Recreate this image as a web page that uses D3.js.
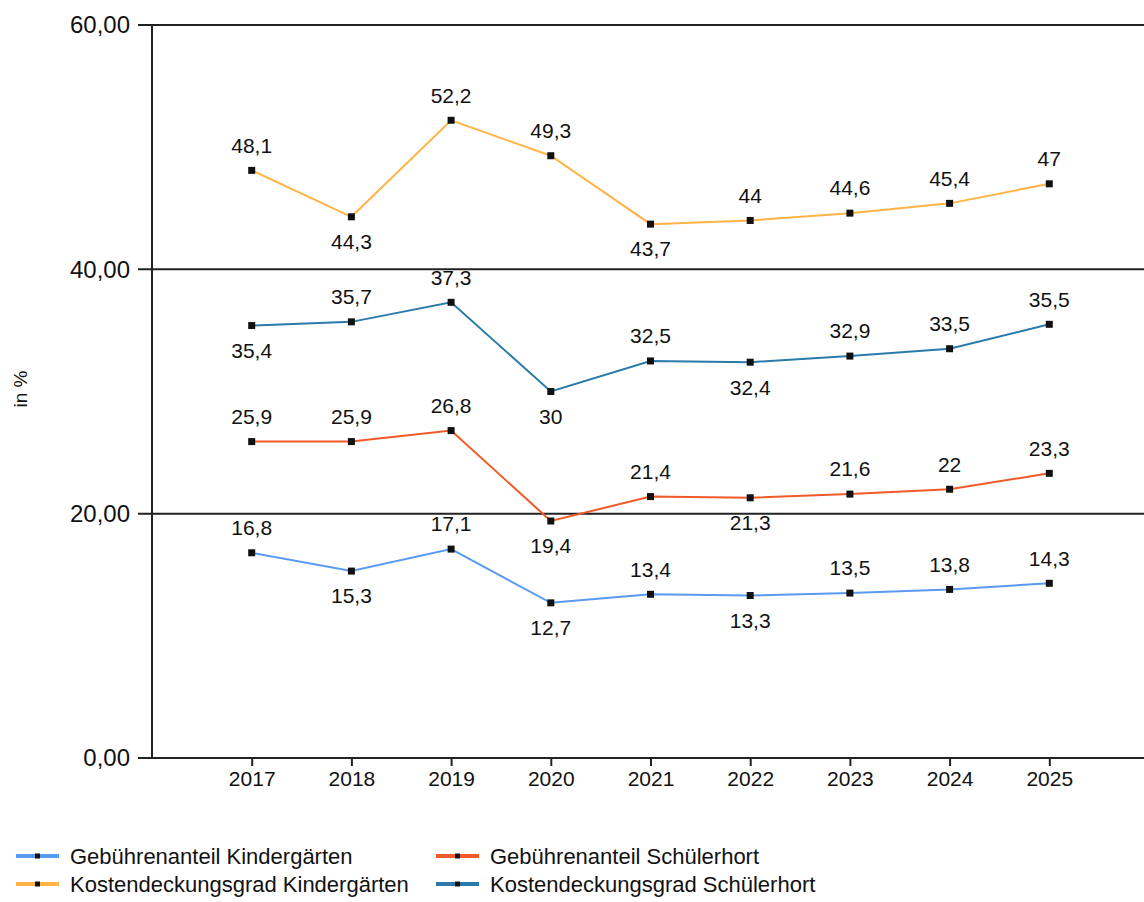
<!DOCTYPE html>
<meta charset="utf-8">
<style>
body { margin: 0; background: #fff; }
text { font-family: "Liberation Sans", Arial, sans-serif; fill: #111; }
.grid line { stroke: #222; stroke-width: 2; }
.series { fill: none; stroke-width: 2; }
</style>
<svg width="1144" height="902"></svg>
<script src="https://cdn.jsdelivr.net/npm/d3@7"></script>
<script>
var years = ["2017", "2018", "2019", "2020", "2021", "2022", "2023", "2024", "2025"];
var gebKita   = [16.8, 15.3, 17.1, 12.7, 13.4, 13.3, 13.5, 13.8, 14.3];
var kostKita  = [48.1, 44.3, 52.2, 49.3, 43.7, 44.0, 44.6, 45.4, 47.0];
var gebHort   = [25.9, 25.9, 26.8, 19.4, 21.4, 21.3, 21.6, 22.0, 23.3];
var kostHort  = [35.4, 35.7, 37.3, 30.0, 32.5, 32.4, 32.9, 33.5, 35.5];
var yTicks = [0, 20, 40, 60];

var series = [
  {name: "Gebührenanteil Kindergärten", values: gebKita, color: "#5A9BF0"},
  {name: "Kostendeckungsgrad Kindergärten", values: kostKita, color: "#FFB445"},
  {name: "Gebührenanteil Schülerhort", values: gebHort, color: "#F05A28"},
  {name: "Kostendeckungsgrad Schülerhort", values: kostHort, color: "#2A7AAA"}
];

var svg = d3.select("svg"),
    plotL = 152, plotR = 1149, plotT = 25, plotB = 758;

var x = d3.scalePoint().domain(years).range([plotL, plotR]).padding(1);
var y = d3.scaleLinear().domain([0, 60]).range([plotB, plotT]);
var fmt = function(v) { return d3.format(".2f")(v).replace(".", ","); };
var lbl = function(v) { return String(v).replace(".", ","); };

// horizontal lines + y ticks
var grid = svg.append("g").attr("class", "grid");
grid.selectAll("line")
    .data(yTicks)
  .enter().append("line")
    .attr("x1", plotL - 14).attr("x2", 1144)
    .attr("y1", function(d) { return y(d); })
    .attr("y2", function(d) { return y(d); });

svg.append("g").selectAll("text")
    .data(yTicks)
  .enter().append("text")
    .attr("x", 130)
    .attr("y", function(d) { return y(d); })
    .attr("dy", "0.35em")
    .attr("text-anchor", "end")
    .style("font-size", "24px")
    .text(fmt);

// y axis line
svg.append("line")
    .attr("x1", plotL).attr("x2", plotL)
    .attr("y1", plotT).attr("y2", plotB)
    .attr("stroke", "#222").attr("stroke-width", 2);

// x axis
var xAxis = d3.axisBottom(x).tickSize(8).tickSizeOuter(0);
var gx = svg.append("g")
    .attr("transform", "translate(0," + plotB + ")")
    .call(xAxis);
gx.select(".domain").remove();
gx.selectAll(".tick line").attr("stroke", "#222").attr("stroke-width", 2);
gx.selectAll(".tick text")
    .attr("y", 13)
    .style("font-size", "21px")
    .style("font-family", "'Liberation Sans', Arial, sans-serif")
    .attr("fill", "#111");

// axis title
svg.append("text")
    .attr("transform", "translate(27,389) rotate(-90)")
    .attr("text-anchor", "middle")
    .style("font-size", "19px")
    .text("in %");

var line = d3.line()
    .x(function(d, i) { return x(years[i]); })
    .y(function(d) { return y(d); });

series.forEach(function(s) {
  svg.append("path")
      .datum(s.values)
      .attr("class", "series")
      .attr("stroke", s.color)
      .attr("d", line);

  svg.append("g").selectAll("rect")
      .data(s.values)
    .enter().append("rect")
      .attr("x", function(d, i) { return x(years[i]) - 3.5; })
      .attr("y", function(d) { return y(d) - 3.5; })
      .attr("width", 7).attr("height", 7)
      .attr("fill", "#111");

  // label below when point is a local minimum
  svg.append("g").selectAll("text")
      .data(s.values)
    .enter().append("text")
      .attr("x", function(d, i) { return x(years[i]); })
      .attr("y", function(d, i) {
        var v = s.values, below = (i === 0 || d < v[i - 1]) && (i === v.length - 1 || d < v[i + 1]);
        return y(d) + (below ? 25 : -25);
      })
      .attr("dy", "0.35em")
      .attr("text-anchor", "middle")
      .style("font-size", "21px")
      .text(lbl);
});

// legend: row1 geb kita | geb hort, row2 kost kita | kost hort
var legend = svg.append("g").selectAll("g")
    .data(series)
  .enter().append("g")
    .attr("transform", function(d, i) {
      var col = i < 2 ? 0 : 1, row = i % 2;
      return "translate(" + (col === 0 ? 16 : 436) + "," + (856 + row * 28) + ")";
    });

legend.append("line")
    .attr("x1", 0).attr("x2", 43)
    .attr("stroke", function(d) { return d.color; })
    .attr("stroke-width", 4);
legend.append("rect")
    .attr("x", 19).attr("y", -2.5)
    .attr("width", 5).attr("height", 5)
    .attr("fill", "#111");
legend.append("text")
    .attr("x", 54)
    .attr("dy", "0.35em")
    .style("font-size", "22px")
    .text(function(d) { return d.name; });
</script>
